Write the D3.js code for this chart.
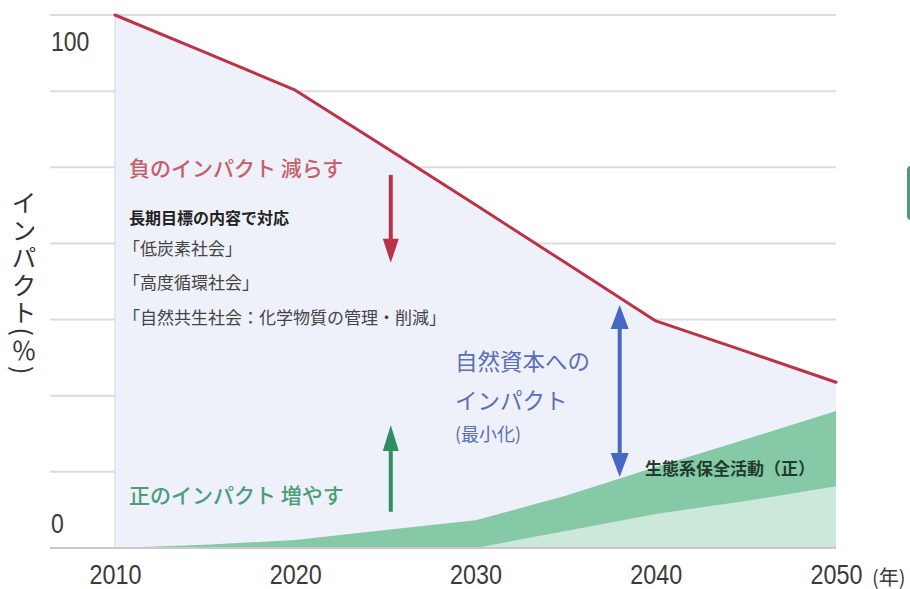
<!DOCTYPE html>
<html><head><meta charset="utf-8">
<script src="https://cdn.jsdelivr.net/npm/d3@7"></script>
<style>
html,body{margin:0;padding:0;background:#fff;}
svg{display:block;}
</style></head>
<body>
<svg id="chart" width="910" height="589"></svg>
<script>
// ---- data ----
const years = [2010, 2015, 2020, 2025, 2030, 2035, 2040, 2045, 2050];
const negativeImpact = [100, 93, 85.9, 75.2, 64.4, 53.5, 42.6, 36.9, 31.1];
const ecosystemTotal = [0, 0.6, 1.5, 3.4, 5.2, 9.8, 15.2, 20.4, 25.7];
const ecosystemBase  = [0, 0, 0, 0, 0, 3.2, 6.4, 8.8, 11.6];
const xTickYears = [2010, 2020, 2030, 2040, 2050];
const yTickValues = [0, 100];
const yTickLabels = ["0", "100"];
const gridValues = d3.range(0, 8).map(i => i * 100 / 7);
const xUnit = "(年)";
const yTitle = "インパクト(％)";
const negTitle = "負のインパクト 減らす";
const negSub = "長期目標の内容で対応";
const negItems = ["「低炭素社会」", "「高度循環社会」", "「自然共生社会：化学物質の管理・削減」"];
const capitalLines = ["自然資本への", "インパクト"];
const capitalNote = "(最小化)";
const posLabel = "生態系保全活動（正）";
const posTitle = "正のインパクト 増やす";
// annotation arrows in data units: [year, fromValue, toValue]
const redArrow = [2025.3, 70, 53.5];
const greenArrow = [2025.3, 6.8, 23.1];
const blueArrow = [2038.0, 45.6, 13.3];

// ---- scales ----
const svg = d3.select("#chart");
const x = d3.scaleLinear().domain([2010, 2050]).range([115, 836]);
const y = d3.scaleLinear().domain([0, 100]).range([548, 15]);
const jp = "'Noto Sans CJK JP','Noto Sans',sans-serif";
const num = "'Liberation Sans',Arial,sans-serif";

// gridlines
svg.append("g").selectAll("line").data(gridValues).join("line")
  .attr("x1", 50).attr("x2", x(2050))
  .attr("y1", d => y(d)).attr("y2", d => y(d))
  .attr("stroke", "#dcdcdc").attr("stroke-width", 2);

const pts = years.map((yr, i) => ({yr, neg: negativeImpact[i], tot: ecosystemTotal[i], base: ecosystemBase[i]}));

// blue area under the negative impact line
svg.append("path").datum(pts)
  .attr("d", d3.area().x(d => x(d.yr)).y0(y(0)).y1(d => y(d.neg)))
  .attr("fill", "#eef1f9");

// left vertical boundary
svg.append("line").attr("x1", x(2010)).attr("x2", x(2010))
  .attr("y1", y(100)).attr("y2", y(0)).attr("stroke", "#d6d9e2").attr("stroke-width", 1);

// green areas
svg.append("path").datum(pts)
  .attr("d", d3.area().x(d => x(d.yr)).y0(y(0)).y1(d => y(d.tot)))
  .attr("fill", "#86c9a7");
svg.append("path").datum(pts)
  .attr("d", d3.area().x(d => x(d.yr)).y0(y(0)).y1(d => y(d.base)))
  .attr("fill", "#cbe8d9");

// baseline
svg.append("line").attr("x1", 50).attr("x2", x(2050))
  .attr("y1", y(0)).attr("y2", y(0)).attr("stroke", "#c9c9c9").attr("stroke-width", 2);

// red line
svg.append("path").datum(pts)
  .attr("d", d3.line().x(d => x(d.yr)).y(d => y(d.neg)))
  .attr("fill", "none").attr("stroke", "#bb3346").attr("stroke-width", 3)
  .attr("stroke-linejoin", "round").attr("stroke-linecap", "round");

// arrows
function arrow(spec, color, headLen, headW, both) {
  const ax = x(spec[0]), y1 = y(spec[1]), y2 = y(spec[2]);
  const dir = Math.sign(y2 - y1);
  const g = svg.append("g");
  g.append("line").attr("x1", ax).attr("x2", ax)
    .attr("y1", both ? y1 + dir * headLen * 0.8 : y1).attr("y2", y2 - dir * headLen * 0.8)
    .attr("stroke", color).attr("stroke-width", 4);
  const head = (tipY, d) => `M${ax},${tipY} L${ax - headW / 2},${tipY - d * headLen} L${ax + headW / 2},${tipY - d * headLen} Z`;
  g.append("path").attr("d", head(y2, dir)).attr("fill", color);
  if (both) g.append("path").attr("d", head(y1, -dir)).attr("fill", color);
}
arrow(redArrow, "#bb3346", 24, 16, false);
arrow(greenArrow, "#2e8f63", 26, 16, false);
arrow(blueArrow, "#4866c4", 24, 18, true);

// x axis
const xAxis = svg.append("g").attr("transform", `translate(0,${y(0)})`)
  .call(d3.axisBottom(x).tickValues(xTickYears).tickFormat(d3.format("d")).tickSize(0).tickPadding(17));
xAxis.select(".domain").remove();
xAxis.selectAll("text").attr("font-family", num).attr("font-size", 27).attr("fill", "#3a3a3a")
  .attr("dy", "0.71em").attr("textLength", 52).attr("lengthAdjust", "spacingAndGlyphs");
svg.append("text").attr("x", 872).attr("y", 576).attr("dominant-baseline", "central")
  .attr("font-family", jp).attr("font-size", 20).attr("fill", "#3a3a3a").text(xUnit);

// y tick labels
const yOffsets = {0: -24, 100: 27};
svg.append("g").selectAll("text").data(yTickValues).join("text")
  .attr("x", 51).attr("y", d => y(d) + yOffsets[d])
  .attr("dominant-baseline", "central")
  .attr("font-family", num).attr("font-size", 27).attr("fill", "#3a3a3a")
  .attr("textLength", (d, i) => yTickLabels[i].length * 12.8)
  .attr("lengthAdjust", "spacingAndGlyphs")
  .text((d, i) => yTickLabels[i]);

// y title (vertical)
svg.append("text").attr("x", 24).attr("y", 190)
  .attr("style", "writing-mode: vertical-rl; text-orientation: mixed; letter-spacing: 2.5px;")
  .attr("font-family", jp).attr("font-size", 25).attr("fill", "#333")
  .text(yTitle);

// annotations
function label(txt, px, py, size, color, weight) {
  svg.append("text").attr("x", px).attr("y", py).attr("dominant-baseline", "central")
    .attr("font-family", jp).attr("font-size", size).attr("fill", color)
    .attr("font-weight", weight || "normal").text(txt);
}
label(negTitle, 129, 167, 21, "#c5606b", 500);
label(negSub, 129, 217, 16, "#222", "bold");
negItems.forEach((t, i) => label(t, 123, [247, 281, 316][i], 17, "#444"));
label(capitalLines[0], 455, 360, 22.5, "#5a6fb8");
label(capitalLines[1], 455, 399, 22.5, "#5a6fb8");
label(capitalNote, 455, 433, 18, "#5a6fb8");
label(posLabel, 645, 467, 17, "#1f3b2c", "bold");
label(posTitle, 129, 494, 21, "#4a9d79", 500);

// partial rounded box at right edge
svg.append("rect").attr("x", 907).attr("y", 166).attr("width", 12).attr("height", 54)
  .attr("rx", 4).attr("fill", "#4f9a78");
</script>
</body></html>
